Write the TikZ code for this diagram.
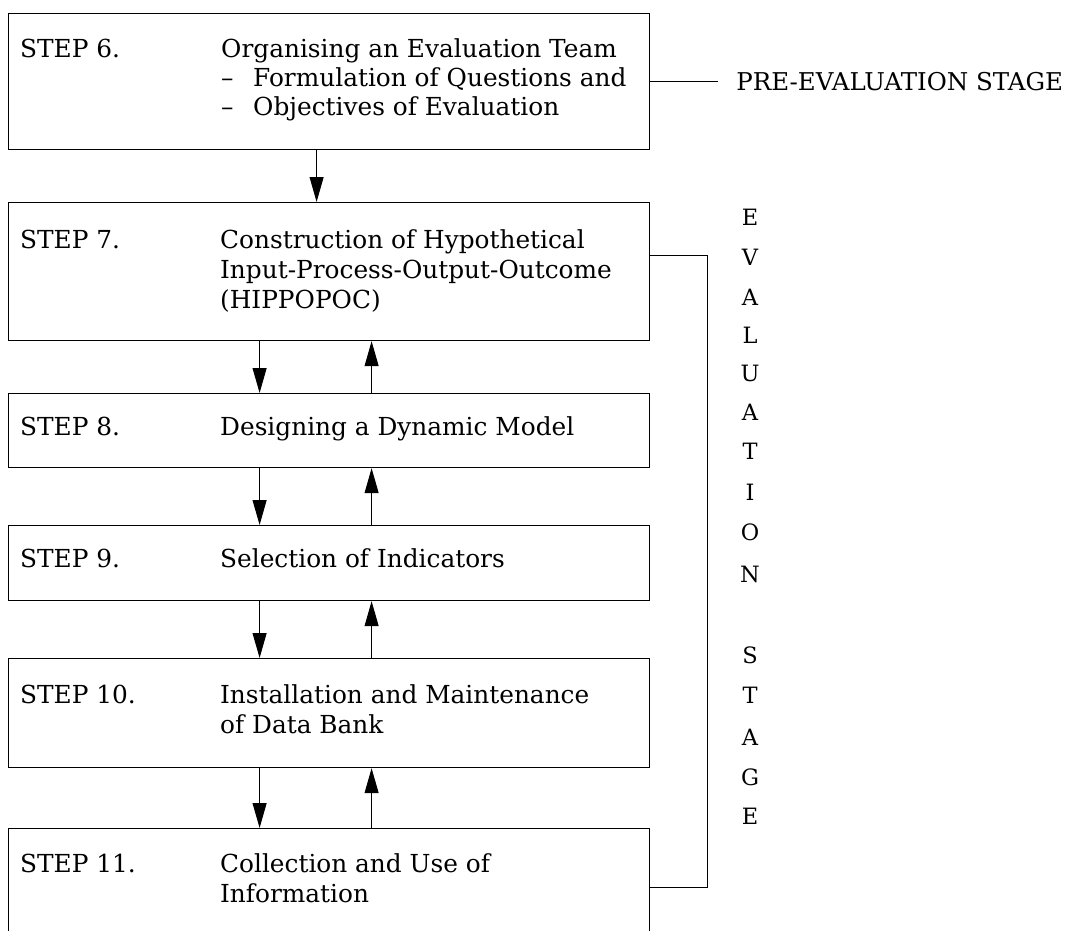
\documentclass[tikz,border=0pt]{standalone}
\usepackage{fontspec}
\setmainfont{DejaVu Serif}
\usetikzlibrary{arrows.meta}
\begin{document}
\begin{tikzpicture}[x=1pt,y=-1pt,
  stepbox/.style={draw=black, line width=1.2pt, inner sep=0pt, minimum width=641pt, anchor=north west},
  txt/.style={anchor=base west, inner sep=0pt, font=\fontsize{24.8}{30}\selectfont},
  arr/.style={line width=1pt, -{Triangle[length=25pt,width=14pt]}},
  conn/.style={line width=1.1pt},
  vl/.style={inner sep=0pt, font=\fontsize{22.5}{26}\selectfont}]
\useasboundingbox (0,0) rectangle (1066,930);
\clip (0,0) rectangle (1066,930);
% boxes
\node[stepbox, minimum height=136.5pt] (b6) at (8,12.5) {};
\node[stepbox, minimum height=138pt] (b7) at (8,202) {};
\node[stepbox, minimum height=74pt] (b8) at (8,393) {};
\node[stepbox, minimum height=75pt] (b9) at (8,525) {};
\node[stepbox, minimum height=109pt] (b10) at (8,658) {};
\node[stepbox, minimum height=112pt] (b11) at (8,828) {};
% texts
\node[txt] (s6) at (20,57) {STEP 6.};
\node[txt] (d6a) at (221,57) {Organising an Evaluation Team};
\node[txt] (d6b) at (221,86) {\makebox[32pt][l]{–}Formulation of Questions and};
\node[txt] (d6c) at (221,115) {\makebox[32pt][l]{–}Objectives of Evaluation};
\node[txt] (s7) at (20,248) {STEP 7.};
\node[txt] (d7a) at (220,248) {Construction of Hypothetical};
\node[txt] (d7b) at (220,278) {Input-Process-Output-Outcome};
\node[txt] (d7c) at (220,308) {(HIPPOPOC)};
\node[txt] (s8) at (20,435) {STEP 8.};
\node[txt] (d8) at (220,435) {Designing a Dynamic Model};
\node[txt] (s9) at (20,567) {STEP 9.};
\node[txt] (d9) at (220,567) {Selection of Indicators};
\node[txt] (s10) at (20,703) {STEP 10.};
\node[txt] (d10a) at (220,703) {Installation and Maintenance};
\node[txt] (d10b) at (220,733) {of Data Bank};
\node[txt] (s11) at (20,872) {STEP 11.};
\node[txt] (d11a) at (220,872) {Collection and Use of};
\node[txt] (d11b) at (220,902) {Information};
% pre-evaluation
\path (b6.east) ++(68,0) node[anchor=west, inner xsep=18pt, inner ysep=0pt, font=\fontsize{24.5}{28}\selectfont] (pre) {PRE-EVALUATION STAGE};
\draw[conn] (b6.east) -- (pre.west);
% arrows
\draw[arr] ([xshift=-12.5pt]b6.south) -- ([xshift=-12.5pt]b7.north);
\foreach \u/\l in {b7/b8, b8/b9, b9/b10, b10/b11}{
  \draw[arr] ([xshift=-69.5pt]\u.south) -- ([xshift=-69.5pt]\l.north);
  \draw[arr] ([xshift=42.5pt]\l.north) -- ([xshift=42.5pt]\u.south);
}
% evaluation loop
\coordinate (r7) at ([yshift=16pt]b7.east);
\coordinate (r11) at ([yshift=-3pt]b11.east);
\draw[conn] (r7) -- ++(57,0) |- (r11);
% vertical letters
\foreach \c/\yy [count=\i] in {E/217, V/257, A/297, L/335, U/373, A/412, T/451, I/492, O/532, N/574, S/655, T/695, A/737, G/777, E/816}{
  \node[vl] (ev\i) at (750,\yy) {\c};
}
\end{tikzpicture}
\end{document}
